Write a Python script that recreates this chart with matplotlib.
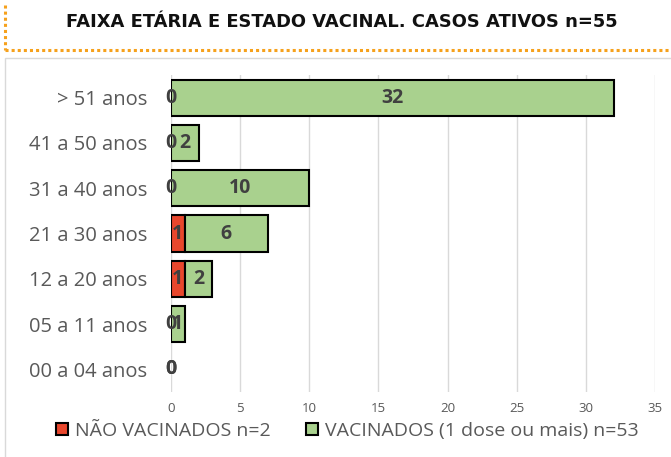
import matplotlib.pyplot as plt
from matplotlib.patches import Rectangle, Patch
from matplotlib.lines import Line2D

# Age groups, top to bottom as in the chart
faixas = ['> 51 anos', '41 a 50 anos', '31 a 40 anos', '21 a 30 anos',
          '12 a 20 anos', '05 a 11 anos', '00 a 04 anos']
nao_vacinados = [0, 0, 0, 1, 1, 0, 0]
vacinados = [32, 2, 10, 6, 2, 1, 0]
xticks = [0, 5, 10, 15, 20, 25, 30, 35]

title = 'FAIXA ETÁRIA E ESTADO VACINAL. CASOS ATIVOS n=55'
leg_labels = ['NÃO VACINADOS n=2', 'VACINADOS (1 dose ou mais) n=53']

RED = '#E8472D'
GREEN = '#A9D18E'
GRAY_TXT = '#595959'
LABEL_TXT = '#404040'
FONT = 'Open Sans'

W, H = 671, 457
fig = plt.figure(figsize=(W / 100, H / 100), dpi=100)
ax = fig.add_axes([171 / W, 1 - 392 / H, (655 - 171) / W, (392 - 75) / H])

# reverse so first category is at the top
ys = list(range(len(faixas)))[::-1]

# no outline on empty segments
lw_red = [1.5 if v else 0 for v in nao_vacinados]
lw_green = [1.5 if v else 0 for v in vacinados]
ax.barh(ys, nao_vacinados, height=0.8, color=RED, edgecolor='black',
        linewidth=lw_red, zorder=3)
ax.barh(ys, vacinados, left=nao_vacinados, height=0.8, color=GREEN,
        edgecolor='black', linewidth=lw_green, zorder=3)

for y, a, b in zip(ys, nao_vacinados, vacinados):
    ax.text(a / 2, y, str(a), ha='center', va='center', fontsize=14,
            fontweight='bold', color=LABEL_TXT, family=FONT, zorder=4)
    ax.text(a + b / 2, y, str(b), ha='center', va='center', fontsize=14,
            fontweight='bold', color=LABEL_TXT, family=FONT, zorder=4)

ax.set_xlim(0, 35)
ax.set_ylim(-0.5, len(faixas) - 0.5)
ax.set_xticks(xticks)
ax.set_yticks(ys)
ax.set_yticklabels(faixas, fontsize=14.5, color=GRAY_TXT, family=FONT)
ax.tick_params(axis='x', length=0, pad=7, labelsize=9.5, labelcolor=GRAY_TXT)
ax.tick_params(axis='y', length=0, pad=17)
for lab in ax.get_xticklabels():
    lab.set_family(FONT)
ax.grid(axis='x', color='#D9D9D9', linewidth=1, zorder=0)
for s in ax.spines.values():
    s.set_visible(False)

# title and the orange dotted frame
fig.text(342 / W, 1 - 22 / H, title, ha='center', va='center',
         fontsize=12.9, fontweight='bold', family='DejaVu Sans', color='#111111')
orange = '#F6A11C'
fig.add_artist(Line2D([5 / W, 5 / W], [1 - 5 / H, 1 - 50 / H],
                      transform=fig.transFigure, color=orange,
                      linewidth=2.2, linestyle=(0, (1, 1))))
fig.add_artist(Line2D([5 / W, 1], [1 - 50 / H, 1 - 50 / H],
                      transform=fig.transFigure, color=orange,
                      linewidth=2.2, linestyle=(0, (1, 1))))

# light gray chart frame
fig.add_artist(Rectangle((5 / W, -0.05), 1, 1.05 - 58 / H,
                         transform=fig.transFigure, fill=False,
                         edgecolor='#D9D9D9', linewidth=1))

handles = [Patch(facecolor=RED, edgecolor='black', linewidth=1.5),
           Patch(facecolor=GREEN, edgecolor='black', linewidth=1.5)]
fig.legend(handles, leg_labels, loc='center', bbox_to_anchor=(347 / W, 1 - 431 / H),
           ncol=2, frameon=False, handlelength=0.62, handleheight=0.62,
           handletextpad=0.36, columnspacing=1.8, borderpad=0,
           prop={'family': FONT, 'size': 14}, labelcolor=GRAY_TXT)

fig.savefig('out.png', dpi=100)
